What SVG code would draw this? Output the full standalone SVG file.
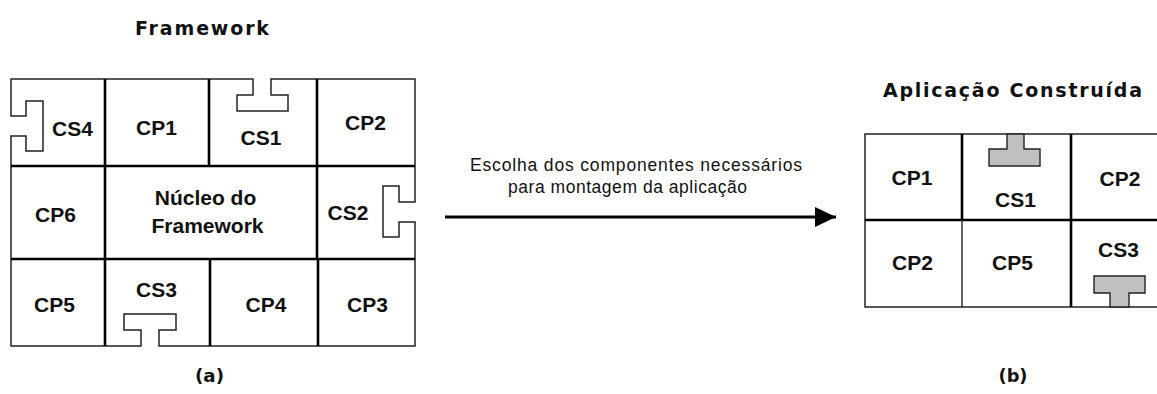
<svg xmlns="http://www.w3.org/2000/svg" width="1157" height="394" viewBox="0 0 1157 394">
<style>
.outer{fill:none;stroke:#222;stroke-width:1.5}
.inner{fill:none;stroke:#000;stroke-width:2.6}
.thin{fill:none;stroke:#222;stroke-width:1.4}
.tee{fill:#c0c0c0;stroke:#222;stroke-width:1.4}
.lbl{font-family:"Liberation Sans",Arial,sans-serif;font-weight:bold;font-size:21px;fill:#111;text-anchor:middle}
.ttl{font-family:"DejaVu Sans",Verdana,sans-serif;font-weight:bold;font-size:19px;fill:#111;text-anchor:middle}
.sub{font-family:"DejaVu Sans",Verdana,sans-serif;font-weight:bold;font-size:17px;fill:#111;text-anchor:middle}
.cap{font-family:"Liberation Sans",Arial,sans-serif;font-size:17.5px;fill:#111}
</style>
<defs>
<marker id="ah" markerWidth="22" markerHeight="20" refX="21" refY="10" orient="auto" markerUnits="userSpaceOnUse">
<path d="M0,0 L21,10 L0,20 Z" fill="#000"/>
</marker>
</defs>
<rect width="1157" height="394" fill="#fff"/>

<text class="ttl" x="202" y="35" textLength="134" lengthAdjust="spacing">Framework</text>
<text class="ttl" x="1012.5" y="97" textLength="259" lengthAdjust="spacing">Aplicação Construída</text>

<g id="framework-grid">
<path class="outer" d="M11,79 L253,79 L253,95 L237,95 L237,111 L288,111 L288,95 L271,95 L271,79 L415,79 L415,202 L399,202 L399,186 L383,186 L383,237 L399,237 L399,222 L415,222 L415,346 L159,346 L159,330 L176,330 L176,314 L124,314 L124,330 L141,330 L141,346 L11,346 L11,136 L26,136 L26,151 L43,151 L43,101 L26,101 L26,116 L11,116 Z"/>
<path class="inner" d="M11,166 H415 M11,259 H415 M105,79 V346 M209,79 V166 M317,79 V259 M210,259 V346 M318,259 V346"/>
</g>

<g id="cs4"><text class="lbl" x="72.5" y="136">CS4</text></g>
<g id="cp1"><text class="lbl" x="156.5" y="135">CP1</text></g>
<g id="cs1"><text class="lbl" x="261" y="145">CS1</text></g>
<g id="cp2"><text class="lbl" x="365.5" y="130">CP2</text></g>
<g id="cp6"><text class="lbl" x="55.5" y="222">CP6</text></g>
<g id="nucleo"><text class="lbl" x="205.5" y="205">Núcleo do</text><text class="lbl" x="207.5" y="233">Framework</text></g>
<g id="cs2"><text class="lbl" x="348" y="220">CS2</text></g>
<g id="cp5"><text class="lbl" x="54.5" y="312">CP5</text></g>
<g id="cs3"><text class="lbl" x="156.5" y="297">CS3</text></g>
<g id="cp4"><text class="lbl" x="266" y="312">CP4</text></g>
<g id="cp3"><text class="lbl" x="367.5" y="312">CP3</text></g>

<text class="sub" x="209.5" y="382" textLength="29" lengthAdjust="spacingAndGlyphs">(a)</text>

<g id="connectors">
<line x1="445" y1="217" x2="836" y2="217" stroke="#000" stroke-width="3" marker-end="url(#ah)"/>
<text class="cap" x="470" y="171" textLength="332" lengthAdjust="spacing">Escolha dos componentes necessários</text>
<text class="cap" x="508" y="193" textLength="239" lengthAdjust="spacing">para montagem da aplicação</text>
</g>

<g id="app-grid">
<path class="outer" d="M1160,134 H865 V307 H1160"/>
<path class="inner" d="M865,220 H1160 M962,134 V220 M1071,134 V307"/>
<path class="thin" d="M962,220 V307"/>
<path class="tee" d="M1007,134 L1024,134 L1024,149 L1040,149 L1040,166 L989,166 L989,149 L1007,149 Z"/>
<path class="tee" d="M1094,276 L1145,276 L1145,293 L1129,293 L1129,307 L1110,307 L1110,293 L1094,293 Z"/>
</g>

<g id="app-cp1"><text class="lbl" x="912" y="185">CP1</text></g>
<g id="app-cs1"><text class="lbl" x="1015.5" y="207">CS1</text></g>
<g id="app-cp2a"><text class="lbl" x="1120" y="186">CP2</text></g>
<g id="app-cp2b"><text class="lbl" x="912.5" y="270">CP2</text></g>
<g id="app-cp5"><text class="lbl" x="1012.5" y="270">CP5</text></g>
<g id="app-cs3"><text class="lbl" x="1118.5" y="257">CS3</text></g>

<text class="sub" x="1013" y="382" textLength="29" lengthAdjust="spacingAndGlyphs">(b)</text>
</svg>
